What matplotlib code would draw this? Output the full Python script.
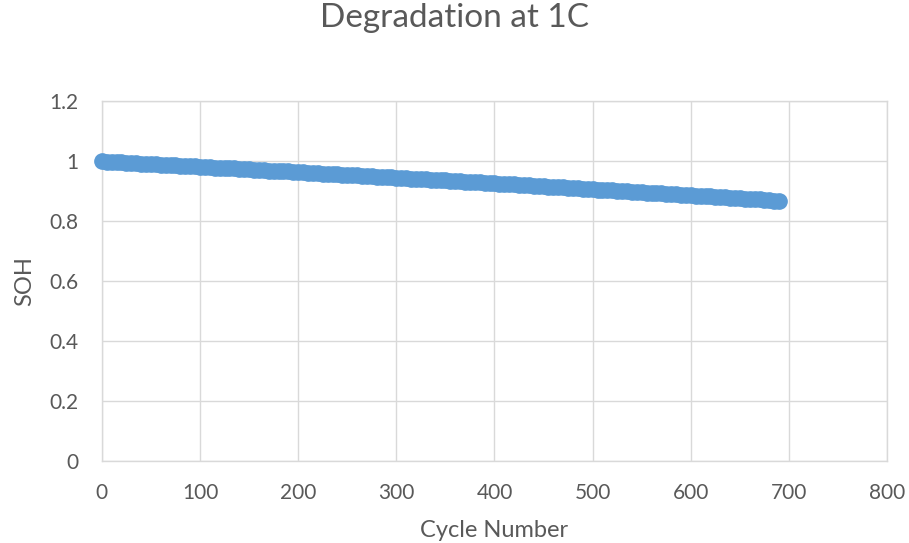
import matplotlib
matplotlib.use("Agg")
import matplotlib.pyplot as plt

# cycle number vs state of health, every 5 cycles
cycles = list(range(0, 695, 5))
soh = [1.000, 0.998, 0.997, 0.996, 0.995, 0.994, 0.993, 0.992, 0.991, 0.991,
       0.990, 0.989, 0.988, 0.987, 0.986, 0.985, 0.984, 0.984, 0.983, 0.982,
       0.981, 0.980, 0.979, 0.978, 0.977, 0.977, 0.976, 0.975, 0.974, 0.973,
       0.972, 0.971, 0.970, 0.969, 0.968, 0.967, 0.966, 0.966, 0.965, 0.964,
       0.963, 0.962, 0.961, 0.960, 0.959, 0.958, 0.957, 0.956, 0.955, 0.954,
       0.953, 0.953, 0.952, 0.951, 0.950, 0.949, 0.948, 0.947, 0.946, 0.945,
       0.944, 0.943, 0.942, 0.941, 0.940, 0.940, 0.939, 0.938, 0.937, 0.936,
       0.935, 0.934, 0.933, 0.932, 0.931, 0.930, 0.929, 0.929, 0.928, 0.927,
       0.926, 0.925, 0.924, 0.923, 0.922, 0.921, 0.920, 0.919, 0.918, 0.917,
       0.916, 0.915, 0.914, 0.913, 0.912, 0.911, 0.910, 0.909, 0.908, 0.907,
       0.906, 0.905, 0.904, 0.903, 0.902, 0.901, 0.900, 0.899, 0.898, 0.897,
       0.896, 0.895, 0.894, 0.893, 0.892, 0.891, 0.890, 0.889, 0.888, 0.887,
       0.886, 0.885, 0.884, 0.883, 0.882, 0.881, 0.880, 0.879, 0.878, 0.877,
       0.876, 0.875, 0.874, 0.873, 0.872, 0.871, 0.869, 0.868, 0.867]

x_ticks = [0, 100, 200, 300, 400, 500, 600, 700, 800]
y_ticks = [0, 0.2, 0.4, 0.6, 0.8, 1.0, 1.2]
y_tick_labels = ["0", "0.2", "0.4", "0.6", "0.8", "1", "1.2"]

TEXT = "#595959"
GRID = "#D9D9D9"
BLUE = "#5B9BD5"

plt.rcParams["font.family"] = ["Lato", "DejaVu Sans"]

fig = plt.figure(figsize=(9.09, 5.43), dpi=100)
ax = fig.add_axes([0.112, 0.151, 0.864, 0.663])

ax.plot(cycles, soh, linestyle="none", marker="o", markersize=11,
        color=BLUE, markeredgecolor=BLUE, clip_on=False, zorder=3)

ax.set_xlim(0, 800)
ax.set_ylim(0, 1.2)
ax.set_xticks(x_ticks)
ax.set_yticks(y_ticks)
ax.set_yticklabels(y_tick_labels)
ax.grid(True, color=GRID, linewidth=1)
ax.set_axisbelow(True)
for s in ax.spines.values():
    s.set_color(GRID)
    s.set_linewidth(1)
ax.tick_params(axis="x", length=0, labelsize=15, colors=TEXT, pad=16)
ax.tick_params(axis="y", length=0, labelsize=15, colors=TEXT, pad=17)

ax.set_xlabel("Cycle Number", fontsize=17, color=TEXT, labelpad=12)
ax.set_ylabel("SOH", fontsize=17, color=TEXT, labelpad=10)
fig.suptitle("Degradation at 1C", fontsize=24, color=TEXT, y=0.995)

fig.savefig("out.png", dpi=100)
